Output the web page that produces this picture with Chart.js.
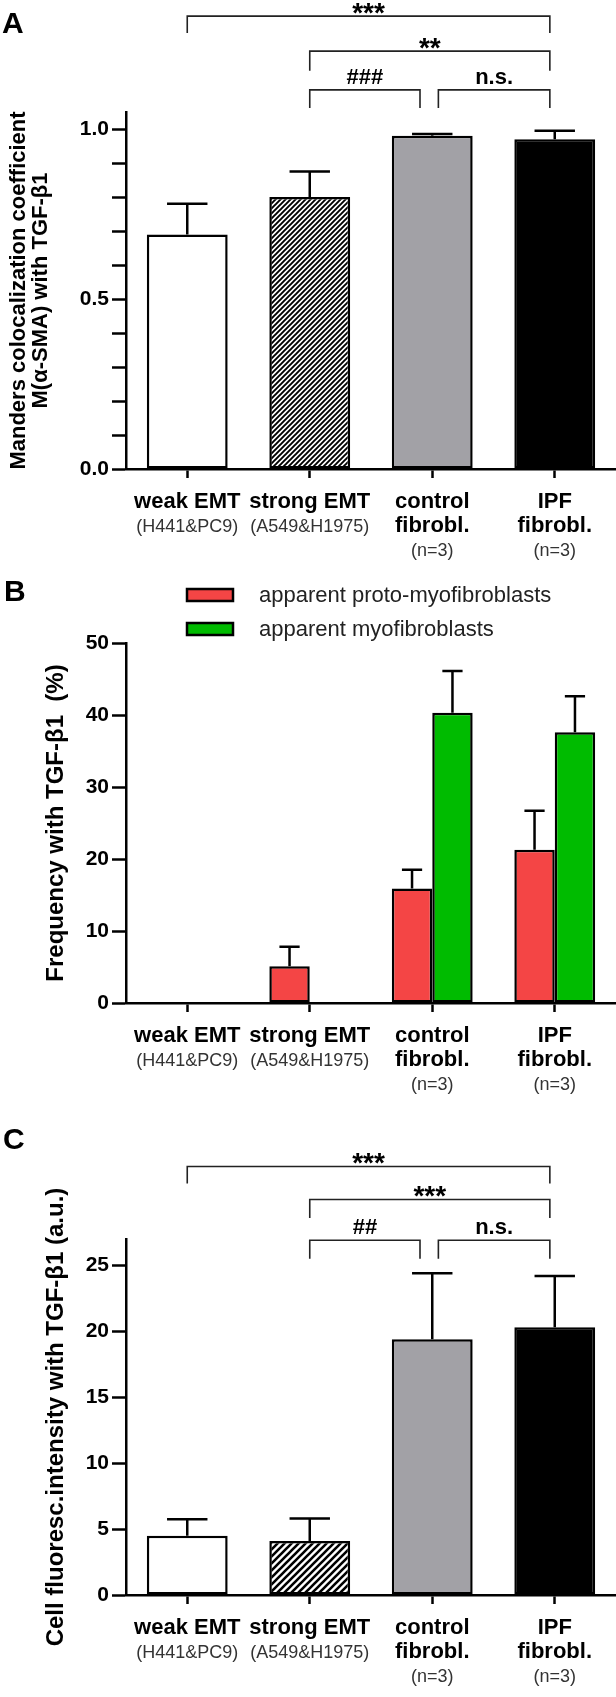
<!DOCTYPE html>
<html lang="en">
<head>
<meta charset="UTF-8">
<title>TGF-β1 colocalization</title>
<script src="https://cdn.jsdelivr.net/npm/chart.js"></script>
<style>
  body { margin: 0; background: #fff; }
  #wrap { position: relative; width: 616px; height: 1697px; }
  .panel { position: absolute; left: 0; width: 616px; }
</style>
</head>
<body>
<div id="wrap">
  <div class="panel" style="top:0;height:570px"><canvas id="chartA"></canvas></div>
  <div class="panel" style="top:570px;height:530px"><canvas id="chartB"></canvas></div>
  <div class="panel" style="top:1100px;height:597px"><canvas id="chartC"></canvas></div>
</div>

<script>
// categories
const groups = ['weak EMT', 'strong EMT', 'control fibrobl.', 'IPF fibrobl.'];
const groupLines = [['weak EMT'], ['strong EMT'], ['control', 'fibrobl.'], ['IPF', 'fibrobl.']];
const groupNotes = ['(H441&PC9)', '(A549&H1975)', '(n=3)', '(n=3)'];

// A: Manders coefficient (mean, upper error)
const mandersMean = [0.69, 0.80, 0.98, 0.97];
const mandersErr = [0.09, 0.075, 0.005, 0.025];

// B: frequencies (%)
const protoMean = [0, 5.1, 15.9, 21.3];
const protoErr = [0, 2.7, 2.6, 5.4];
const myoMean = [0, 0, 40.3, 37.6];
const myoErr = [0, 0, 5.8, 5.0];

// C: cell fluorescence intensity (a.u.)
const intensityMean = [4.5, 4.1, 19.4, 20.3];
const intensityErr = [1.25, 1.7, 5.0, 3.9];

// significance brackets: [from, to, line level, leg end, label] in axis units
const bracketsA = [
  [0, 2.96, 1.332, 1.282, '***'],
  [1, 2.96, 1.229, 1.171, '**'],
  [1, 1.9, 1.115, 1.062, '###'],
  [2.05, 2.96, 1.115, 1.062, 'n.s.']
];
const bracketsC = [
  [0, 2.96, 32.5, 31.2, '***'],
  [1, 2.96, 30.0, 28.6, '***'],
  [1, 1.9, 26.9, 25.5, '##'],
  [2.05, 2.96, 26.9, 25.5, 'n.s.']
];

const family = "'Liberation Sans', Arial, sans-serif";
Chart.defaults.font.family = family;
Chart.defaults.color = '#000';

// diagonal hatch for "strong EMT"
function makeHatch(p, w) {
  const tile = document.createElement('canvas');
  tile.width = p; tile.height = p;
  const g = tile.getContext('2d');
  g.fillStyle = '#fff';
  g.fillRect(0, 0, p, p);
  g.strokeStyle = '#000';
  g.lineWidth = w;
  g.beginPath();
  g.moveTo(-1, p + 1); g.lineTo(p + 1, -1);
  g.moveTo(-1, 1); g.lineTo(1, -1);
  g.moveTo(p - 1, p + 1); g.lineTo(p + 1, p - 1);
  g.stroke();
  return g.createPattern(tile, 'repeat');
}
const hatchA = makeHatch(5, 1.9);
const hatchC = makeHatch(7, 2.6);

// upper error bars with a cap
const errorBars = {
  id: 'errorBars',
  afterDatasetsDraw(chart) {
    const ctx = chart.ctx, y = chart.scales.y;
    chart.data.datasets.forEach((ds, di) => {
      chart.getDatasetMeta(di).data.forEach((bar, i) => {
        const err = ds.errors ? ds.errors[i] : 0;
        if (!err) return;
        const top = y.getPixelForValue(ds.data[i] + err);
        const half = bar.width / 4;
        ctx.save();
        ctx.strokeStyle = '#000';
        ctx.lineWidth = 2.5;
        ctx.beginPath();
        ctx.moveTo(bar.x, bar.y);
        ctx.lineTo(bar.x, top);
        ctx.moveTo(bar.x - half, top);
        ctx.lineTo(bar.x + half, top);
        ctx.stroke();
        ctx.restore();
      });
    });
  }
};

// category labels under the x axis (bold name + small note)
const xLabels = {
  id: 'xLabels',
  afterDraw(chart) {
    const ctx = chart.ctx, x = chart.scales.x, base = chart.chartArea.bottom;
    ctx.save();
    ctx.textAlign = 'center';
    ctx.textBaseline = 'alphabetic';
    chart.data.labels.forEach((lab, i) => {
      const px = x.getPixelForValue(i);
      let py = base + 39;
      ctx.font = 'bold 22px ' + family;
      ctx.fillStyle = '#000';
      groupLines[i].forEach(t => { ctx.fillText(t, px, py); py += 24; });
      ctx.font = '18px ' + family;
      ctx.fillStyle = '#333';
      ctx.fillText(groupNotes[i], px, py);
    });
    ctx.restore();
  }
};

const brackets = {
  id: 'brackets',
  afterDraw(chart, args, opts) {
    if (!opts.items) return;
    const ctx = chart.ctx, x = chart.scales.x, y = chart.scales.y;
    ctx.save();
    ctx.strokeStyle = '#222';
    ctx.lineWidth = 1.6;
    ctx.fillStyle = '#000';
    ctx.textAlign = 'center';
    opts.items.forEach(([a, b, level, leg, label]) => {
      const x1 = x.getPixelForValue(a), x2 = x.getPixelForValue(b);
      const yl = y.getPixelForValue(level), yg = y.getPixelForValue(leg);
      ctx.beginPath();
      ctx.moveTo(x1, yg); ctx.lineTo(x1, yl); ctx.lineTo(x2, yl); ctx.lineTo(x2, yg);
      ctx.stroke();
      const star = label[0] === '*';
      ctx.font = (star ? 'bold 28px ' : 'bold 22px ') + family;
      ctx.fillText(label, (x1 + x2) / 2, star ? yl + 6 : yl - 6);
    });
    ctx.restore();
  }
};

const panelLetter = {
  id: 'panelLetter',
  afterDraw(chart, args, opts) {
    const ctx = chart.ctx;
    ctx.save();
    ctx.font = 'bold 30px ' + family;
    ctx.fillStyle = '#000';
    ctx.fillText(opts.text, opts.x, opts.y);
    ctx.restore();
  }
};

// legend of panel B, boxes stacked vertically
const stackedLegend = {
  id: 'stackedLegend',
  afterDraw(chart, args, opts) {
    if (!opts.show) return;
    const ctx = chart.ctx;
    ctx.save();
    chart.data.datasets.forEach((ds, i) => {
      const top = 19 + i * 34;
      ctx.fillStyle = ds.backgroundColor;
      ctx.fillRect(187, top, 46, 12);
      ctx.strokeStyle = '#000';
      ctx.lineWidth = 2.5;
      ctx.strokeRect(187, top, 46, 12);
      ctx.font = '22px ' + family;
      ctx.fillStyle = '#222';
      ctx.fillText(ds.label, 259, top + 13);
    });
    ctx.restore();
  }
};

function xAxis(h) {
  return {
    offset: true,
    border: { color: '#000', width: 2.5 },
    grid: { offset: false, drawOnChartArea: false, tickLength: 9, tickColor: '#000', tickWidth: 2.5 },
    ticks: { callback: () => '', padding: 0 },
    afterFit: s => { s.height = h; }
  };
}

function yAxis(max, step, title, titleSize, titlePad, labelFn) {
  return {
    min: 0,
    max: max,
    border: { color: '#000', width: 2.5 },
    grid: { drawOnChartArea: false, tickLength: 14, tickColor: '#000', tickWidth: 2.5 },
    ticks: {
      stepSize: step, includeBounds: false, autoSkip: false, padding: 3, color: '#000',
      font: { size: 21, weight: 'bold' },
      callback: labelFn
    },
    title: {
      display: true, text: title, color: '#000',
      font: { size: titleSize, weight: 'bold', lineHeight: 1.0 },
      padding: { top: titlePad, bottom: 0 }
    },
    afterFit: s => { s.width = 126; }
  };
}

function baseOptions(padTop, xH, yOpts, extra) {
  return {
    responsive: true,
    maintainAspectRatio: false,
    animation: false,
    events: [],
    layout: { padding: { top: padTop, left: 0, right: 0, bottom: 0 } },
    scales: { x: xAxis(xH), y: yOpts },
    plugins: Object.assign({ legend: { display: false }, tooltip: { enabled: false } }, extra)
  };
}

const barStyle = { borderColor: '#000', borderWidth: 2.5, borderSkipped: false, categoryPercentage: 0.66, barPercentage: 1 };
const plugins = [errorBars, xLabels, brackets, panelLetter, stackedLegend];

new Chart(document.getElementById('chartA'), {
  type: 'bar',
  data: {
    labels: groups,
    datasets: [Object.assign({
      data: mandersMean, errors: mandersErr,
      backgroundColor: ['#ffffff', hatchA, '#a2a1a6', '#000000']
    }, barStyle)]
  },
  options: baseOptions(112, 101,
    yAxis(1.05, 0.1, ['Manders colocalization coefficient', 'M(\u03b1-SMA) with TGF-\u03b21'], 22, 8,
      v => Math.abs(v * 2 - Math.round(v * 2)) < 1e-6 ? v.toFixed(1) : ''),
    { brackets: { items: bracketsA }, panelLetter: { text: 'A', x: 2, y: 33 }, stackedLegend: { show: false } }),
  plugins: plugins
});

new Chart(document.getElementById('chartB'), {
  type: 'bar',
  data: {
    labels: groups,
    datasets: [
      Object.assign({ label: 'apparent proto-myofibroblasts', data: protoMean, errors: protoErr, backgroundColor: '#f44545' }, barStyle),
      Object.assign({ label: 'apparent myofibroblasts', data: myoMean, errors: myoErr, backgroundColor: '#00bb00' }, barStyle)
    ]
  },
  options: baseOptions(73, 97,
    yAxis(50, 10, 'Frequency with TGF-\u03b21  (%)', 24, 44, v => String(v)),
    { panelLetter: { text: 'B', x: 4, y: 31 }, stackedLegend: { show: true } }),
  plugins: plugins
});

new Chart(document.getElementById('chartC'), {
  type: 'bar',
  data: {
    labels: groups,
    datasets: [Object.assign({
      data: intensityMean, errors: intensityErr,
      backgroundColor: ['#ffffff', hatchC, '#a2a1a6', '#000000']
    }, barStyle)]
  },
  options: baseOptions(139, 102,
    yAxis(27, 5, 'Cell fluoresc.intensity with TGF-\u03b21 (a.u.)', 24, 44, v => String(v)),
    { brackets: { items: bracketsC }, panelLetter: { text: 'C', x: 3, y: 49 }, stackedLegend: { show: false } }),
  plugins: plugins
});
</script>
</body>
</html>
